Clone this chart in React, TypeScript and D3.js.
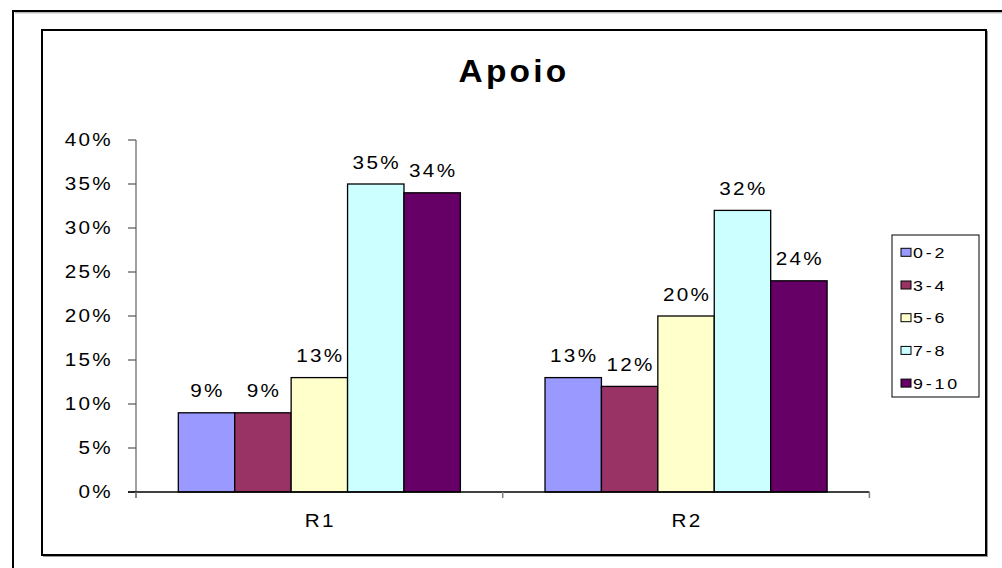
import React from "react";
import * as d3 from "d3";

const categories = ["R1", "R2"];
const seriesNames = ["0-2", "3-4", "5-6", "7-8", "9-10"];
const seriesColors = ["#9999FF", "#993366", "#FFFFCC", "#CCFFFF", "#660066"];
const r1Values = [9, 9, 13, 35, 34];
const r2Values = [13, 12, 20, 32, 24];
const yTicks = [0, 5, 10, 15, 20, 25, 30, 35, 40];
const title = "Apoio";

const values = [r1Values, r2Values];
const FONT = "'Liberation Sans', Arial, Helvetica, sans-serif";

type LabelProps = {
  x: number;
  y: number;
  anchor?: "start" | "middle" | "end";
  size: number;
  spacing: number;
  sx?: number;
  dy?: string;
  weight?: string;
  children: React.ReactNode;
};

function Label({ x, y, anchor = "start", size, spacing, sx = 1.15, dy, weight, children }: LabelProps) {
  return (
    <g transform={`translate(${x},${y}) scale(${sx},1)`}>
      <text
        x={0}
        y={0}
        dy={dy}
        textAnchor={anchor}
        fontSize={size}
        letterSpacing={spacing}
        fontWeight={weight}
        fill="#000"
      >
        {children}
      </text>
    </g>
  );
}

export default function App() {
  const W = 1002;
  const H = 568;
  const plotLeft = 136;
  const plotRight = 869.4;
  const plotTop = 140;
  const plotBottom = 492;

  const y = d3.scaleLinear().domain([0, 40]).range([plotBottom, plotTop]);
  const x0 = d3.scaleBand<string>().domain(categories).range([plotLeft, plotRight]).padding(0);
  const x1 = d3
    .scaleBand<string>()
    .domain(seriesNames)
    .range([0, x0.bandwidth()])
    .paddingInner(0)
    .paddingOuter(0.75);

  const legendX = 892;
  const legendY = 235;
  const legendW = 87;
  const legendH = 162;
  const rowH = 32.7;

  return (
    <svg
      width={W}
      height={H}
      style={{ position: "absolute", left: 0, top: 0, background: "#fff" }}
      fontFamily={FONT}
    >
      {/* outer frame */}
      <rect x={13} y={11} width={1000} height={570} fill="none" stroke="#000" strokeWidth={2} />
      <line x1={15} y1={12.8} x2={1002} y2={12.8} stroke="#999" strokeWidth={1} />
      {/* chart area frame with shadow */}
      <line x1={987.5} y1={31} x2={987.5} y2={557} stroke="#999" strokeWidth={1} />
      <line x1={43} y1={556.5} x2={988} y2={556.5} stroke="#999" strokeWidth={1} />
      <rect x={42} y={30} width={944} height={525} fill="#fff" stroke="#000" strokeWidth={2} />

      {/* title */}
      <Label x={514} y={82} anchor="middle" size={31} weight="bold" spacing={3} sx={1.08}>
        {title}
      </Label>

      {/* y axis */}
      <line x1={plotLeft} y1={plotTop} x2={plotLeft} y2={plotBottom + 6} stroke="#808080" strokeWidth={1.5} />
      {yTicks.map((t) => (
        <g key={t}>
          <line x1={plotLeft - 8} x2={plotLeft} y1={y(t)} y2={y(t)} stroke="#555" strokeWidth={1.2} />
          <Label x={113} y={y(t)} dy="0.36em" anchor="end" size={18} spacing={2}>
            {t + "%"}
          </Label>
        </g>
      ))}

      {/* bars */}
      {categories.map((c, ci) => (
        <g key={c} transform={`translate(${x0(c)},0)`}>
          {seriesNames.map((s, si) => {
            const v = values[ci][si];
            const bx = x1(s) as number;
            const bw = x1.bandwidth();
            return (
              <g key={s}>
                <rect
                  x={bx}
                  y={y(v)}
                  width={bw}
                  height={plotBottom - y(v)}
                  fill={seriesColors[si]}
                  stroke="#000"
                  strokeWidth={1.3}
                />
                <Label x={bx + bw / 2 + 1} y={y(v) - 15.5} anchor="middle" size={18} spacing={2}>
                  {v + "%"}
                </Label>
              </g>
            );
          })}
        </g>
      ))}

      {/* x axis */}
      <line x1={plotLeft - 8} x2={plotRight} y1={plotBottom} y2={plotBottom} stroke="#000" strokeWidth={1.3} />
      {[...categories.map((c) => x0(c) as number), plotRight].map((tx, i) => (
        <line key={i} x1={tx} x2={tx} y1={plotBottom} y2={plotBottom + 6} stroke="#808080" strokeWidth={1.5} />
      ))}
      {categories.map((c) => (
        <Label
          key={c}
          x={(x0(c) as number) + x0.bandwidth() / 2 + 1}
          y={527}
          anchor="middle"
          size={18}
          spacing={2}
        >
          {c}
        </Label>
      ))}

      {/* legend */}
      <rect x={legendX} y={legendY} width={legendW} height={legendH} fill="#fff" stroke="#000" strokeWidth={1} />
      {seriesNames.map((s, i) => {
        const cy = legendY + 17.3 + i * rowH;
        return (
          <g key={s}>
            <rect x={901} y={cy - 4} width={10} height={8} fill={seriesColors[i]} stroke="#000" strokeWidth={1} />
            <Label x={913} y={cy} dy="0.36em" size={15.5} spacing={2.5}>
              {s}
            </Label>
          </g>
        );
      })}
    </svg>
  );
}
